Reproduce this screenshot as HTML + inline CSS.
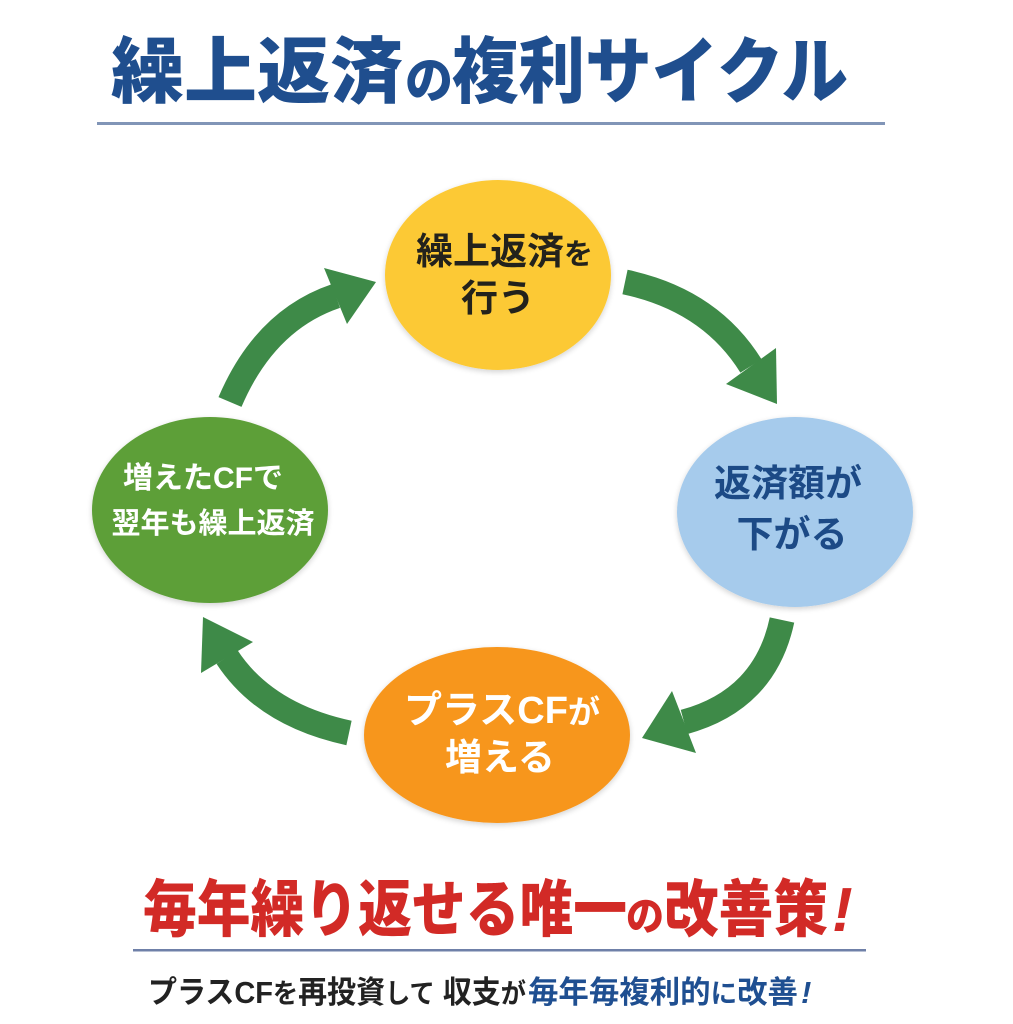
<!DOCTYPE html>
<html lang="ja">
<head>
<meta charset="UTF-8">
<style>
  html,body{margin:0;padding:0;background:#ffffff;}
  body{width:1013px;height:1024px;overflow:hidden;}
  svg{display:block;font-family:"Liberation Sans","Noto Sans CJK JP",sans-serif;}
</style>
</head>
<body>
<svg width="1013" height="1024" viewBox="0 0 1013 1024" xmlns="http://www.w3.org/2000/svg">
  <defs>
    <filter id="sh" x="-15%" y="-15%" width="130%" height="135%">
      <feGaussianBlur in="SourceAlpha" stdDeviation="3"/>
      <feOffset dy="2" result="o"/>
      <feComponentTransfer><feFuncA type="linear" slope="0.18"/></feComponentTransfer>
      <feMerge><feMergeNode/><feMergeNode in="SourceGraphic"/></feMerge>
    </filter>
  </defs>
  <rect width="1013" height="1024" fill="#ffffff"/>

  <!-- Title -->
  <g font-family="'Liberation Sans','Noto Sans CJK JP',sans-serif" font-weight="900" fill="#1f4e8e">
    <text x="111" y="97" font-size="72" textLength="292" lengthAdjust="spacingAndGlyphs">繰上返済</text>
    <text x="405" y="98" font-size="50" textLength="48" lengthAdjust="spacingAndGlyphs">の</text>
    <text x="452" y="97" font-size="72" textLength="396" lengthAdjust="spacingAndGlyphs">複利サイクル</text>
  </g>
  <rect x="97" y="122" width="788" height="3" fill="#8195b7"/>

  <!-- Arrows -->
  <g fill="none" stroke="#3e8a48" stroke-width="25" stroke-linecap="butt">
    <path d="M230,402 Q265,320 336,296"/>
    <path d="M625,282 Q710,300 751,366"/>
    <path d="M782,620 Q765,700 684,722"/>
    <path d="M349,733 Q265,715 227,657"/>
  </g>
  <g fill="#3e8a48">
    <polygon points="324,268 376,282 347,324"/>
    <polygon points="776,348 777,404 726,384"/>
    <polygon points="672,691 642,738 696,753"/>
    <polygon points="253,642 203,617 201,673"/>
  </g>

  <!-- Ellipses -->
  <g filter="url(#sh)">
    <ellipse cx="498" cy="275" rx="113" ry="95" fill="#fcc936"/>
    <ellipse cx="795" cy="512" rx="118" ry="95" fill="#a6cbec"/>
    <ellipse cx="210" cy="510" rx="118" ry="93" fill="#5d9f39"/>
    <ellipse cx="497" cy="735" rx="133" ry="88" fill="#f7961f"/>
  </g>

  <!-- Yellow text -->
  <g font-weight="700" fill="#23221c">
    <text y="264" font-size="37"><tspan x="416">繰上返済</tspan><tspan font-size="29">を</tspan></text>
    <text x="498" y="311" font-size="37" text-anchor="middle">行う</text>
  </g>

  <!-- Blue text -->
  <g font-weight="700" fill="#1c4a86">
    <text x="788" y="496" font-size="37" text-anchor="middle">返済額が</text>
    <text x="792" y="547" font-size="37" text-anchor="middle">下がる</text>
  </g>

  <!-- Green text -->
  <g font-weight="700" fill="#ffffff">
    <text x="203" y="488" font-size="30" text-anchor="middle">増えたCFで</text>
    <text x="213" y="533" font-size="29" text-anchor="middle">翌年も繰上返済</text>
  </g>

  <!-- Orange text -->
  <g font-weight="700" fill="#ffffff">
    <text x="502" y="723" font-size="38" text-anchor="middle">プラスCF<tspan font-size="32">が</tspan></text>
    <text x="500" y="770" font-size="37" text-anchor="middle">増える</text>
  </g>

  <!-- Red heading -->
  <g font-weight="900" fill="#d22a26">
    <text x="143" y="931" font-size="62" textLength="484" lengthAdjust="spacingAndGlyphs">毎年繰り返せる唯一</text>
    <text x="626" y="930" font-size="40" textLength="38" lengthAdjust="spacingAndGlyphs">の</text>
    <text x="664" y="931" font-size="62" textLength="164" lengthAdjust="spacingAndGlyphs">改善策</text>
    <text x="832" y="931" font-size="62" font-style="italic" font-family="'Liberation Sans',sans-serif">!</text>
  </g>
  <rect x="133" y="949" width="733" height="2.5" fill="#6f80a8"/>

  <!-- Bottom line -->
  <g font-weight="700">
    <text x="148" y="1003" font-size="31" fill="#222222" textLength="378" lengthAdjust="spacingAndGlyphs">プラスCF<tspan font-size="27">を</tspan>再投資<tspan font-size="27">して</tspan> 収支<tspan font-size="27">が</tspan></text>
    <text x="528" y="1003" font-size="31" fill="#1f4f91" textLength="270" lengthAdjust="spacingAndGlyphs">毎年毎複利的<tspan font-size="27">に</tspan>改善</text>
    <text x="801" y="1003" font-size="31" font-style="italic" fill="#1f4f91" font-family="'Liberation Sans',sans-serif">!</text>
  </g>
</svg>
</body>
</html>
